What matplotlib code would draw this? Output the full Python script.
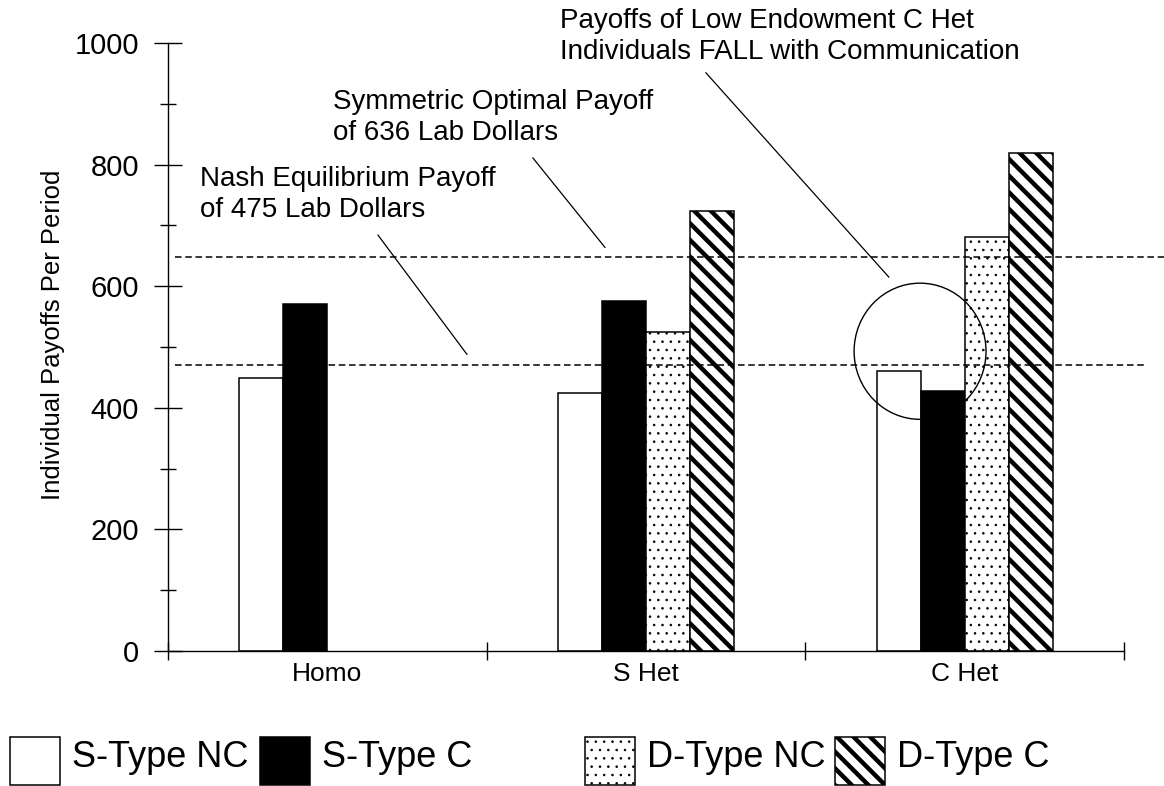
import matplotlib
matplotlib.use('Agg')
import matplotlib.pyplot as plt
import numpy as np
from matplotlib.patches import Ellipse, Rectangle

plt.rcParams['font.family'] = ['Liberation Sans', 'DejaVu Sans']

# data
groups = ['Homo', 'S Het', 'C Het']
series = ['S-Type NC', 'S-Type C', 'D-Type NC', 'D-Type C']
s_type_nc = [449, 424, 460]
s_type_c = [571, 576, 428]
d_type_nc = [np.nan, 525, 681]
d_type_c = [np.nan, 724, 819]
nash_payoff = 470
optimal_payoff = 648

values = [s_type_nc, s_type_c, d_type_nc, d_type_c]
faces = ['white', 'black', 'white', 'white']
hatches = [None, None, '..', '\\\\']
hatch_lw = [1.0, 1.0, 0.6, 3.2]

W, H = 1164, 786
fig = plt.figure(figsize=(W / 100, H / 100), dpi=100)
ax = fig.add_axes([168 / W, 1 - 651 / H, 956 / W, 608 / H])

x = np.arange(len(groups))
width = 0.138
for i, vals in enumerate(values):
    vals = np.array(vals, dtype=float)
    keep = ~np.isnan(vals)
    with plt.rc_context({'hatch.linewidth': hatch_lw[i]}):
        bars = ax.bar(x[keep] + (i - 1.5) * width, vals[keep], width,
                      color=faces[i], edgecolor='black', linewidth=1.1,
                      hatch=hatches[i], zorder=2)
    for b in bars:
        if hasattr(b, 'set_hatch_linewidth'):
            b.set_hatch_linewidth(hatch_lw[i])

# reference lines (run past the axis a little, as in the original)
ax.plot([-0.478, 2.63], [optimal_payoff, optimal_payoff], color='black',
        lw=1.1, dashes=(4.3, 2.4), clip_on=False, zorder=3)
ax.plot([-0.478, 2.566], [nash_payoff, nash_payoff], color='black',
        lw=1.1, dashes=(4.3, 2.4), clip_on=False, zorder=3)

ax.set_xlim(-0.5, 2.5)
ax.set_ylim(0, 1000)

# axes styling
for s in ['top', 'right']:
    ax.spines[s].set_visible(False)
ax.spines['left'].set_bounds(0, 1000)
ax.spines['left'].set_linewidth(1)
ax.spines['bottom'].set_linewidth(1)

ax.set_yticks(np.arange(0, 1001, 200))
ax.set_yticks(np.arange(100, 1000, 200), minor=True)
ax.tick_params(axis='y', which='major', direction='inout', length=20,
               width=1, labelsize=21, pad=11)
ax.tick_params(axis='y', which='minor', direction='inout', length=11.5,
               width=1)

ax.set_xticks([-0.5, 0.5, 1.5, 2.5])
ax.set_xticklabels([])
ax.set_xticks(x, minor=True)
ax.set_xticklabels(groups, minor=True)
ax.tick_params(axis='x', which='major', direction='inout', length=13.5,
               width=1)
ax.tick_params(axis='x', which='minor', length=0, labelsize=19, pad=8)

ax.set_ylabel('Individual Payoffs Per Period', fontsize=18.5)
ax.yaxis.set_label_coords(-0.108, 0.52)

# annotations
ax.text(-0.40, 798, 'Nash Equilibrium Payoff\nof 475 Lab Dollars',
        fontsize=20, va='top', ha='left', linespacing=1.25)
ax.plot([0.159, 0.438], [684, 488], color='black', lw=0.9, clip_on=False)

ax.text(0.018, 924, 'Symmetric Optimal Payoff\nof 636 Lab Dollars',
        fontsize=20, va='top', ha='left', linespacing=1.25)
ax.plot([0.645, 0.871], [811, 664], color='black', lw=0.9, clip_on=False)

ax.text(0.730, 1057, 'Payoffs of Low Endowment C Het\nIndividuals FALL with Communication',
        fontsize=20, va='top', ha='left', linespacing=1.25, clip_on=False)
ax.plot([1.188, 1.762], [951, 615], color='black', lw=0.9, clip_on=False)

ax.add_patch(Ellipse((1.86, 493), 0.414, 224, fill=False, edgecolor='black',
                     lw=1, clip_on=False, zorder=4))

# legend along the bottom
legend_x = [10, 260, 585, 835]
for i, name in enumerate(series):
    px = legend_x[i]
    with plt.rc_context({'hatch.linewidth': hatch_lw[i]}):
        r = Rectangle((px / W, 1 - 785 / H), 50 / W, 48 / H,
                      transform=fig.transFigure, facecolor=faces[i],
                      edgecolor='black', lw=1.1, hatch=hatches[i])
    if hasattr(r, 'set_hatch_linewidth'):
        r.set_hatch_linewidth(hatch_lw[i])
    fig.add_artist(r)
    fig.text((px + 62) / W, 1 - 767 / H, name, fontsize=26, va='baseline')

fig.savefig('out.png', dpi=100)
